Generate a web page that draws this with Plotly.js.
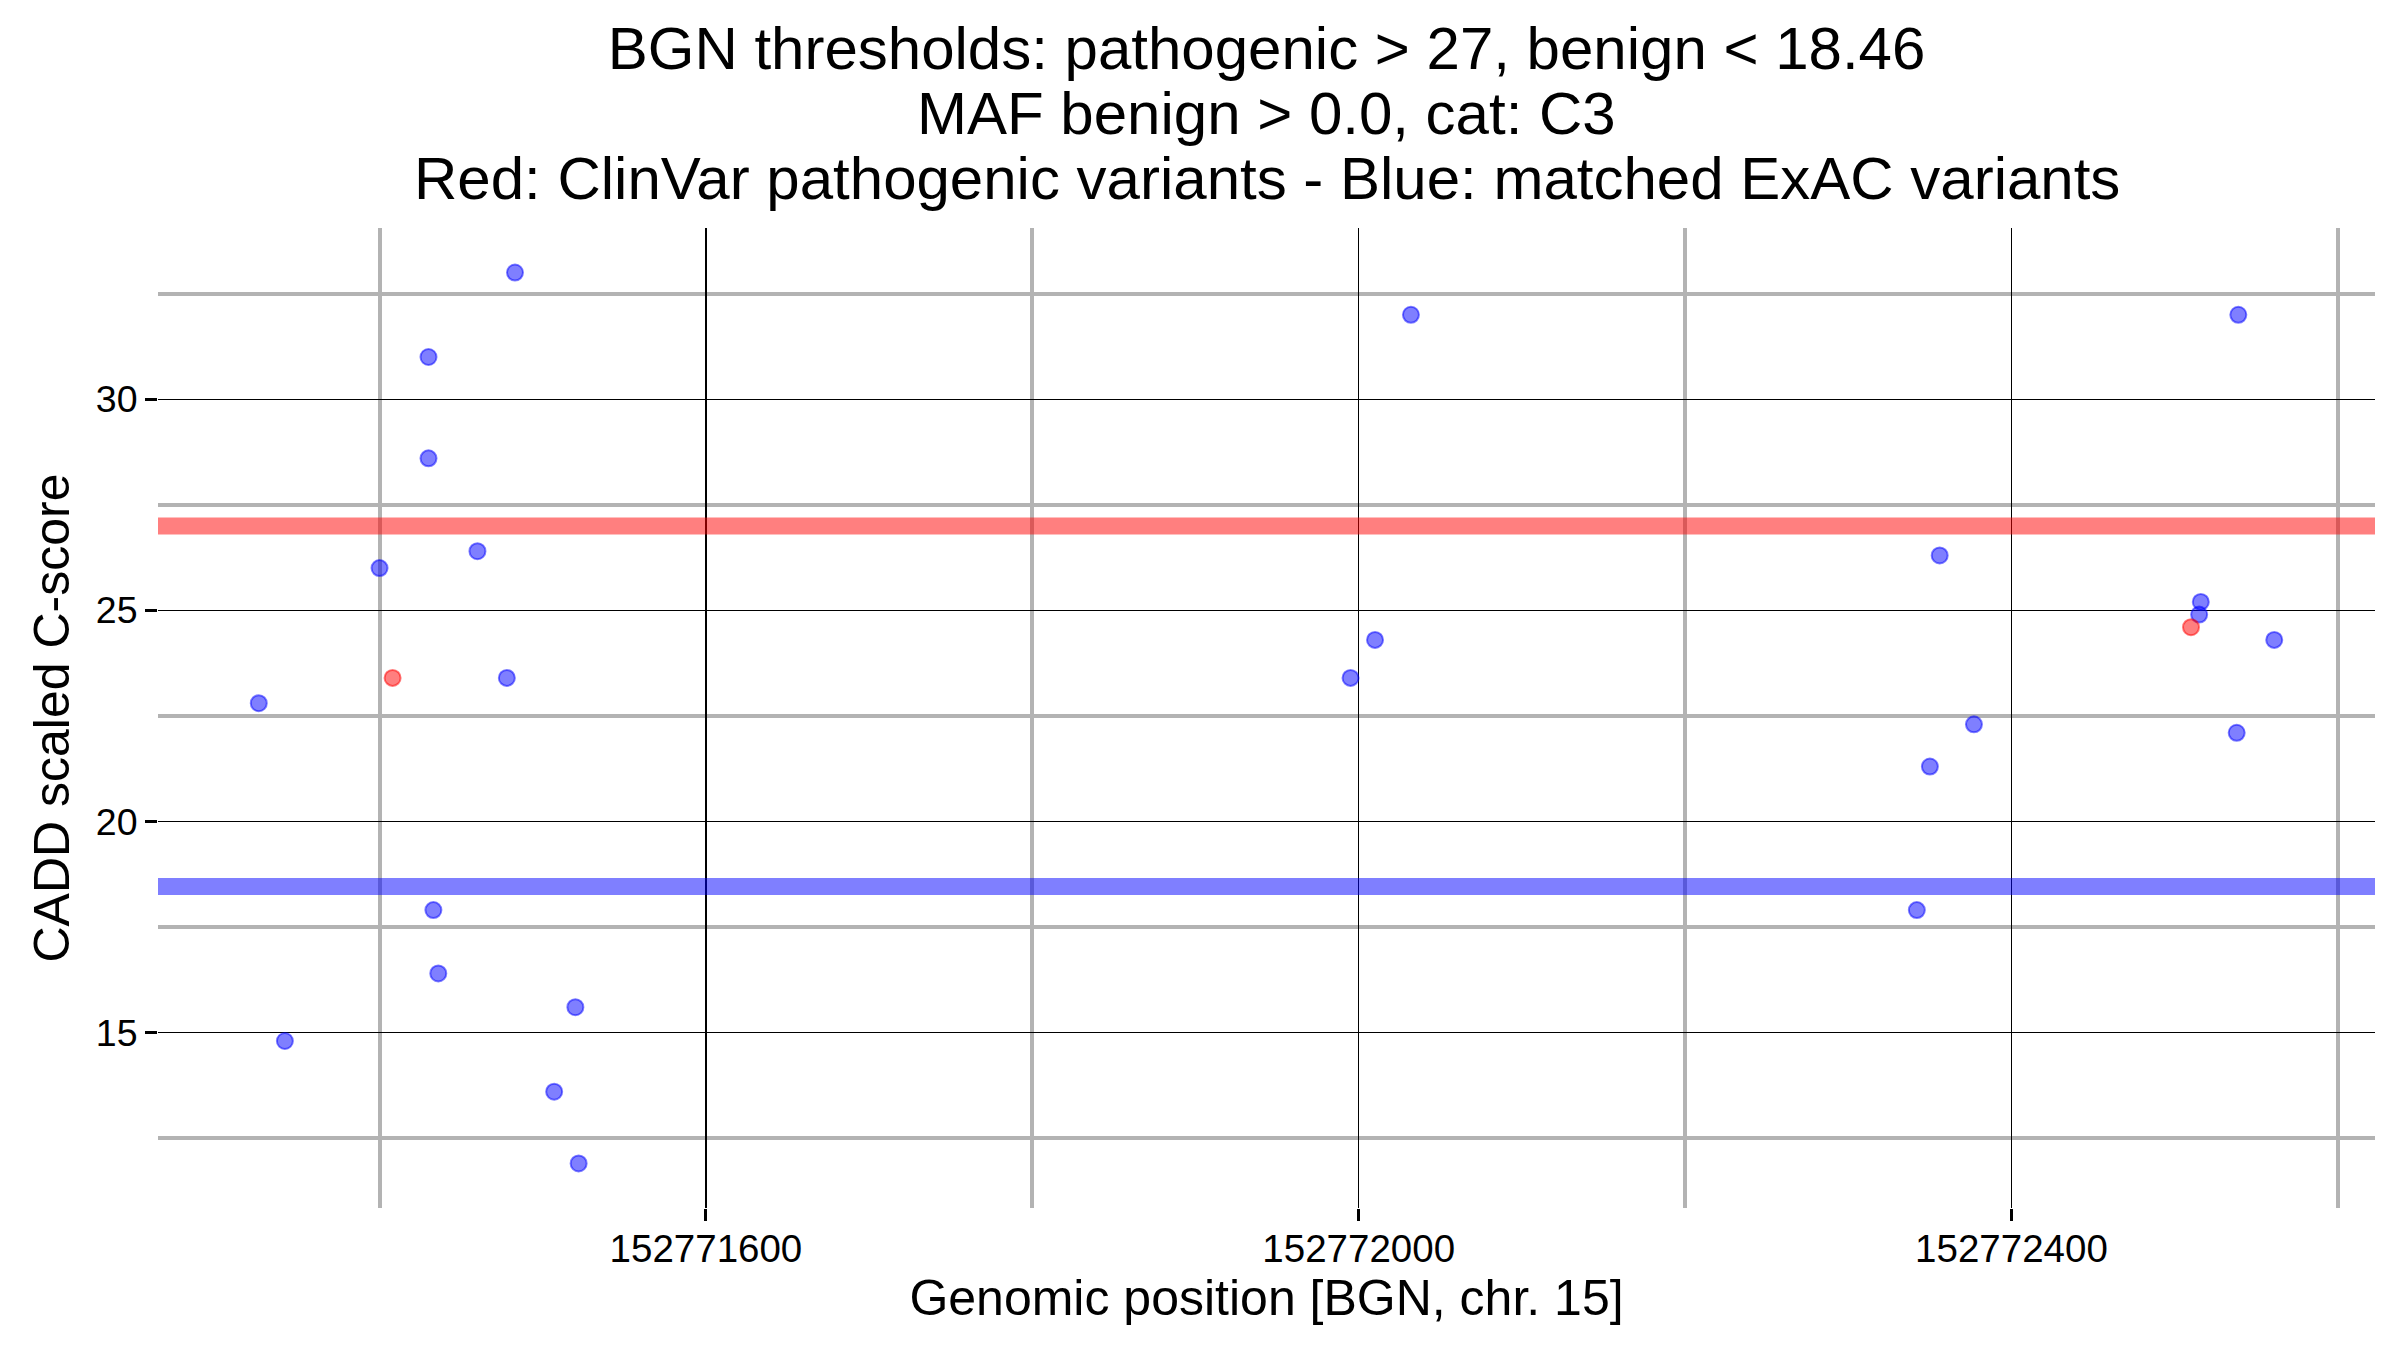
<!DOCTYPE html>
<html>
<head>
<meta charset="utf-8">
<script src="https://cdn.plot.ly/plotly-3.0.1.min.js"></script>
<style>
  html, body { margin: 0; padding: 0; background: #ffffff; }
  #chart { width: 2400px; height: 1350px; }
</style>
</head>
<body>
<div id="chart"></div>
<script>
// ---- Data ----
const titleLines = [
  "BGN thresholds: pathogenic > 27, benign < 18.46",
  "MAF benign > 0.0, cat: C3",
  "Red: ClinVar pathogenic variants - Blue: matched ExAC variants"
];
const xAxisTitle = "Genomic position [BGN, chr. 15]";
const yAxisTitle = "CADD scaled C-score";

const pathogenicThreshold = 27;
const benignThreshold = 18.46;

// matched ExAC variants (blue)
const exacPos = [152771326, 152771342, 152771400, 152771430, 152771430, 152771433,
                 152771436, 152771460, 152771478, 152771483, 152771507, 152771520,
                 152771522, 152771995, 152772010, 152772032, 152772342, 152772350,
                 152772356, 152772377, 152772515, 152772516, 152772538, 152772539,
                 152772561];
const exacScore = [22.8, 14.8, 26.0, 31.0, 28.6, 17.9,
                   16.4, 26.4, 23.4, 33.0, 13.6, 15.6,
                   11.9, 23.4, 24.3, 32.0, 17.9, 21.3,
                   26.3, 22.3, 24.9, 25.2, 22.1, 32.0,
                   24.3];

// ClinVar pathogenic variants (red)
const clinvarPos = [152771408, 152772510];
const clinvarScore = [23.4, 24.6];

const xTickVals = [152771600, 152772000, 152772400];
const xMinorVals = [152771400, 152771800, 152772200, 152772600];
const yTickVals = [15, 20, 25, 30];
const yMinorVals = [12.5, 17.5, 22.5, 27.5, 32.5];

// ---- Scales: data range with 5% expansion ----
function expandRange(vals) {
  const lo = Math.min(...vals), hi = Math.max(...vals);
  const pad = (hi - lo) * 0.05;
  return [lo - pad, hi + pad];
}
const xRange = expandRange(exacPos.concat(clinvarPos));
const yRange = expandRange(exacScore.concat(clinvarScore, [pathogenicThreshold, benignThreshold]));

const FONT = "Liberation Sans, Arial, Helvetica, sans-serif";

const traces = [
  {
    type: "scatter", mode: "markers",
    x: exacPos, y: exacScore,
    marker: { size: 16, color: "rgba(0,0,255,0.5)", line: { color: "rgba(0,0,255,0.5)", width: 2 } },
    hoverinfo: "x+y", showlegend: false
  },
  {
    type: "scatter", mode: "markers",
    x: clinvarPos, y: clinvarScore,
    marker: { size: 16, color: "rgba(255,0,0,0.5)", line: { color: "rgba(255,0,0,0.5)", width: 2 } },
    hoverinfo: "x+y", showlegend: false
  }
];

const layout = {
  width: 2400, height: 1350,
  paper_bgcolor: "#ffffff", plot_bgcolor: "#ffffff",
  margin: { l: 158, r: 25, t: 228, b: 142 },
  font: { family: FONT, color: "#000000" },
  title: {
    text: titleLines[0],
    font: { family: FONT, size: 60, color: "#000000" },
    xref: "paper", x: 0.5, xanchor: "center",
    yref: "container", y: 1 - 48 / 1350, yanchor: "middle"
  },
  annotations: [
    { text: titleLines[1], xref: "paper", yref: "paper", x: 0.5, y: (1208 - 113) / 980,
      xanchor: "center", yanchor: "middle", showarrow: false,
      font: { family: FONT, size: 60, color: "#000000" } },
    { text: titleLines[2], xref: "paper", yref: "paper", x: 0.5, y: (1208 - 178.5) / 980,
      xanchor: "center", yanchor: "middle", showarrow: false,
      font: { family: FONT, size: 60, color: "#000000" } }
  ],
  xaxis: {
    range: xRange,
    tickvals: xTickVals, tickformat: "d",
    ticks: "outside", ticklen: 12, tickwidth: 3, tickcolor: "#000000",
    tickfont: { family: FONT, size: 38.5, color: "#000000" },
    ticklabelstandoff: -5,
    showgrid: true, gridcolor: "#000000", gridwidth: 1.3,
    minor: { tickvals: xMinorVals, showgrid: true, gridcolor: "#b3b3b3", gridwidth: 4, ticks: "" },
    zeroline: false, showline: false,
    title: { text: xAxisTitle, font: { family: FONT, size: 50, color: "#000000" }, standoff: 2 },
    automargin: false
  },
  yaxis: {
    range: yRange,
    tickvals: yTickVals,
    ticks: "outside", ticklen: 12, tickwidth: 3, tickcolor: "#000000",
    tickfont: { family: FONT, size: 37.5, color: "#000000" },
    showgrid: true, gridcolor: "#000000", gridwidth: 1.3,
    minor: { tickvals: yMinorVals, showgrid: true, gridcolor: "#b3b3b3", gridwidth: 4, ticks: "" },
    zeroline: false, showline: false,
    title: { text: yAxisTitle, font: { family: FONT, size: 50, color: "#000000" }, standoff: 10 },
    automargin: false
  },
  shapes: [
    { type: "line", xref: "paper", x0: 0, x1: 1, yref: "y", y0: pathogenicThreshold, y1: pathogenicThreshold,
      line: { color: "rgba(255,0,0,0.5)", width: 17 }, layer: "above" },
    { type: "line", xref: "paper", x0: 0, x1: 1, yref: "y", y0: benignThreshold, y1: benignThreshold,
      line: { color: "rgba(0,0,255,0.5)", width: 17 }, layer: "above" }
  ],
  showlegend: false
};

Plotly.newPlot("chart", traces, layout, { displayModeBar: false, staticPlot: true });
</script>
</body>
</html>
